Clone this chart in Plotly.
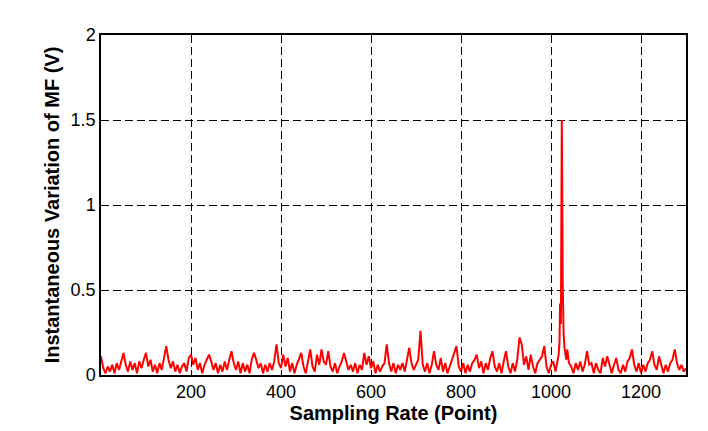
import plotly.graph_objects as go

# Sampling points (x) and instantaneous variation of MF in volts (y)
x_head = list(range(0, 1016, 5))
y_head = [
    0.11, 0.04, 0.01, 0.05, 0.02, 0.06, 0.01, 0.07, 0.03, 0.09, 0.13, 0.06, 0.02, 0.08, 0.03, 0.07, 0.01, 0.08, 0.04, 0.09,
    0.13, 0.05, 0.09, 0.02, 0.06, 0.01, 0.07, 0.03, 0.10, 0.17, 0.09, 0.04, 0.08, 0.02, 0.06, 0.01, 0.05, 0.07, 0.02, 0.10,
    0.12, 0.06, 0.10, 0.03, 0.07, 0.01, 0.06, 0.09, 0.12, 0.08, 0.03, 0.07, 0.01, 0.06, 0.02, 0.08, 0.03, 0.09, 0.14, 0.07,
    0.03, 0.08, 0.01, 0.07, 0.02, 0.06, 0.01, 0.09, 0.13, 0.09, 0.04, 0.07, 0.01, 0.06, 0.02, 0.07, 0.03, 0.08, 0.18, 0.07,
    0.04, 0.12, 0.05, 0.10, 0.02, 0.07, 0.01, 0.06, 0.09, 0.13, 0.05, 0.01, 0.08, 0.15, 0.05, 0.02, 0.12, 0.06, 0.15, 0.08,
    0.06, 0.14, 0.05, 0.02, 0.07, 0.01, 0.05, 0.08, 0.13, 0.07, 0.03, 0.06, 0.02, 0.07, 0.01, 0.06, 0.03, 0.13, 0.06, 0.11,
    0.04, 0.08, 0.01, 0.06, 0.02, 0.05, 0.07, 0.18, 0.07, 0.02, 0.07, 0.01, 0.06, 0.03, 0.07, 0.02, 0.08, 0.16, 0.07, 0.03,
    0.06, 0.09, 0.26, 0.06, 0.02, 0.07, 0.01, 0.06, 0.14, 0.06, 0.03, 0.10, 0.02, 0.07, 0.01, 0.05, 0.09, 0.12, 0.17, 0.05,
    0.02, 0.07, 0.01, 0.06, 0.02, 0.07, 0.09, 0.12, 0.04, 0.08, 0.01, 0.07, 0.03, 0.10, 0.14, 0.05, 0.02, 0.07, 0.01, 0.08,
    0.14, 0.05, 0.01, 0.07, 0.02, 0.09, 0.22, 0.18, 0.06, 0.11, 0.03, 0.12, 0.05, 0.01, 0.07, 0.09, 0.11, 0.17, 0.05, 0.01,
    0.06, 0.08, 0.02, 0.09,
]

x_spike = [1017, 1019, 1020, 1021, 1022, 1023, 1024, 1025, 1026, 1027, 1028, 1030, 1032, 1034, 1036, 1038, 1040]
y_spike = [0.12, 0.20, 0.42, 0.33, 0.30, 0.90, 1.50, 1.10, 0.55, 0.30, 0.25, 0.16, 0.12, 0.09, 0.15, 0.10, 0.07]

x_tail = list(range(1045, 1301, 5))
y_tail = [
    0.05, 0.01, 0.07, 0.03, 0.08, 0.02, 0.06, 0.14, 0.06, 0.07, 0.01,
    0.07, 0.03, 0.01, 0.10, 0.05, 0.11, 0.05, 0.01, 0.06, 0.10, 0.03, 0.01, 0.06, 0.02, 0.08, 0.10, 0.15, 0.06, 0.02, 0.07,
    0.01, 0.06, 0.02, 0.07, 0.09, 0.14, 0.06, 0.03, 0.11, 0.05, 0.01, 0.06, 0.02, 0.07, 0.09, 0.15, 0.07, 0.03, 0.06, 0.02,
    0.04,
]

x_ticks = [200, 400, 600, 800, 1000, 1200]
y_ticks = [0, 0.5, 1, 1.5, 2]
y_tick_text = ["0", "0.5", "1", "1.5", "2"]

x_all = x_head + x_spike + x_tail
y_all = y_head + y_spike + y_tail

fig = go.Figure()
fig.add_trace(go.Scatter(x=x_all, y=y_all, mode="lines",
                         line=dict(color="#ff0000", width=2), showlegend=False))

font_family = "Liberation Sans, Arial, sans-serif"
axis_common = dict(
    showline=True, linecolor="black", linewidth=1.5, mirror="ticks",
    ticks="inside", ticklen=5, tickcolor="black", tickwidth=1,
    showgrid=True, gridcolor="black", gridwidth=1, griddash="8px,4px",
    zeroline=False,
    tickfont=dict(family=font_family, size=18, color="black"),
)

fig.update_xaxes(range=[0, 1300], tickvals=x_ticks,
                 title=dict(text="<b>Sampling Rate (Point)</b>",
                            font=dict(family=font_family, size=20, color="black"), standoff=0),
                 **axis_common)
fig.update_yaxes(range=[0, 2], tickvals=y_ticks, ticktext=y_tick_text,
                 title=dict(text="<b>Instantaneous Variation of MF (V)</b>",
                            font=dict(family=font_family, size=20, color="black"), standoff=6),
                 **axis_common)

fig.update_layout(
    width=708, height=431,
    margin=dict(l=93, r=30, t=27, b=64),
    paper_bgcolor="white", plot_bgcolor="white",
)

fig.write_html("out.html")
